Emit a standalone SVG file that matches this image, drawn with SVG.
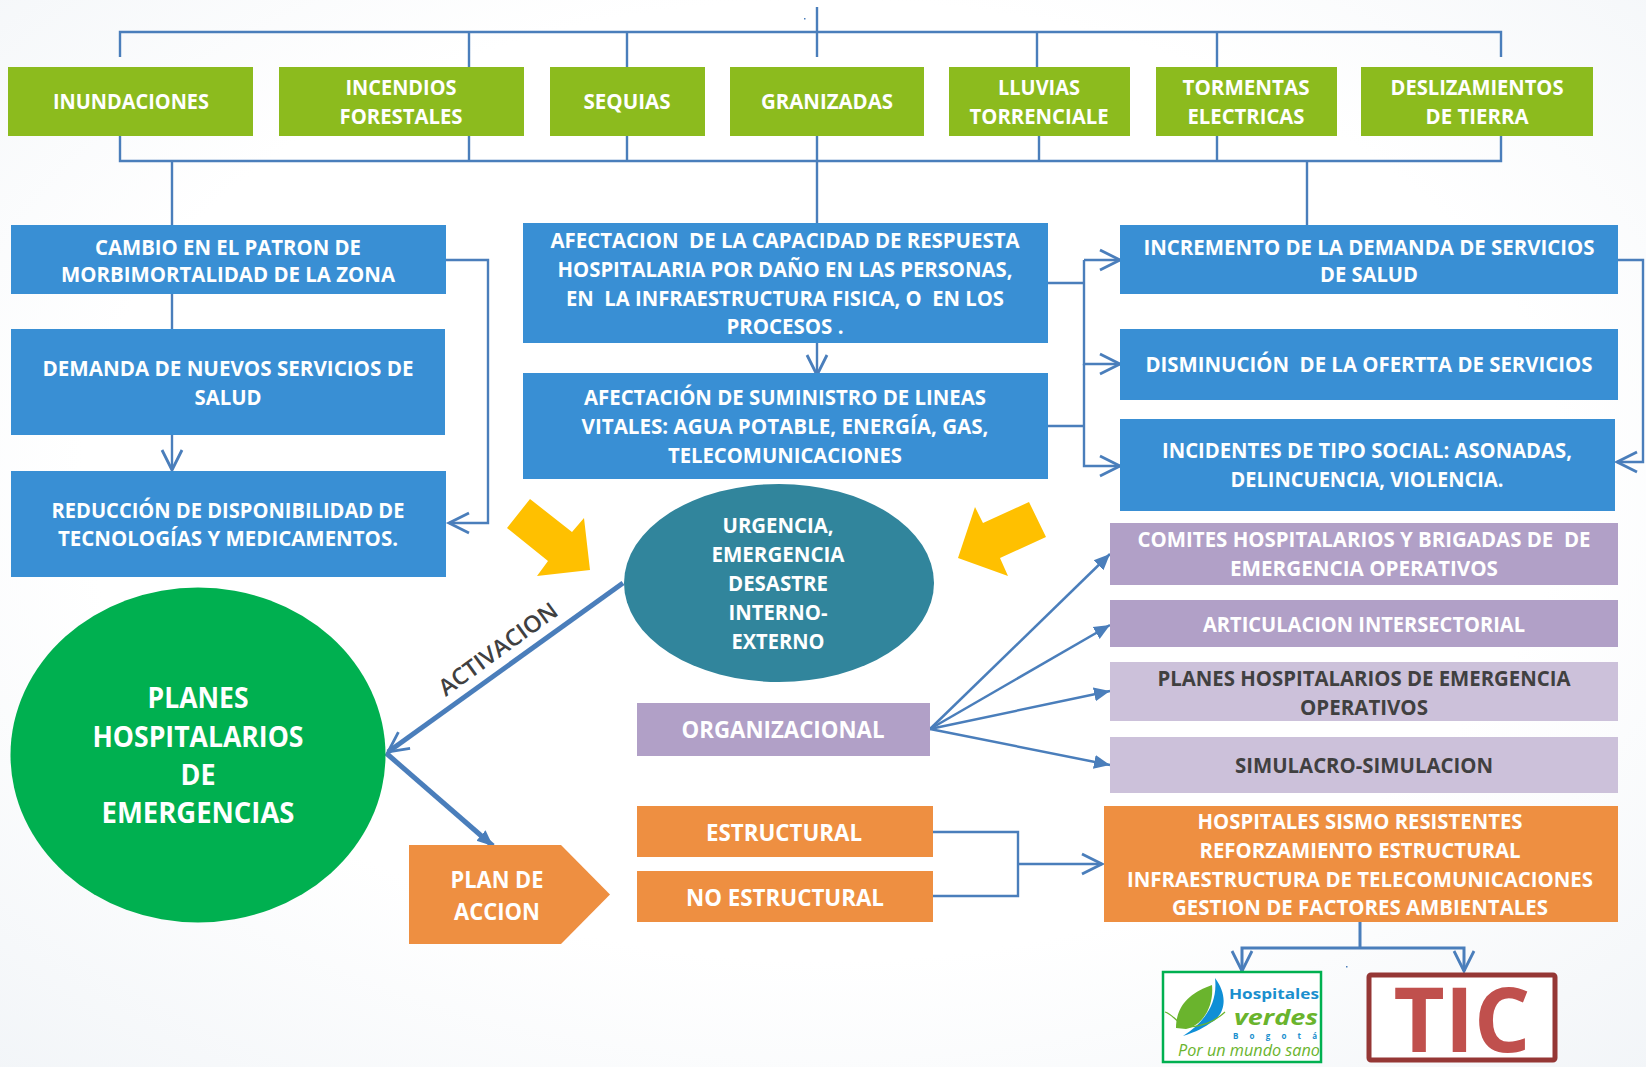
<svg xmlns="http://www.w3.org/2000/svg" width="1646" height="1067" viewBox="0 0 1646 1067">
<style>
text{font-family:"Open Sans","Liberation Sans",sans-serif;font-weight:700;font-size:21px;text-anchor:middle;fill:#fff;white-space:pre}
.big{font-size:23px}.huge{font-size:28px}
.dk{fill:#404040}
.line{fill:none;stroke:#4a7ebb;stroke-width:2.4}
.blue{fill:#398fd4}.grn{fill:#8cbb1e}.pur{fill:#b1a0c7}.lil{fill:#ccc1da}.org{fill:#ee8f41}
.yel{fill:#ffc000}
</style>
<defs>
<radialGradient id="bg" cx="50%" cy="45%" r="75%"><stop offset="0.6" stop-color="#ffffff"/><stop offset="1" stop-color="#f2f5f8"/></radialGradient>
<marker id="open" markerUnits="userSpaceOnUse" markerWidth="26" markerHeight="26" refX="21" refY="11" orient="auto" overflow="visible"><path d="M1 1L21 11L1 21" fill="none" stroke="#4a7ebb" stroke-width="2.8"/></marker>
<marker id="tri" markerUnits="userSpaceOnUse" markerWidth="20" markerHeight="20" refX="16" refY="8" orient="auto"><path d="M0 1L16 8L0 15Z" fill="#4a7ebb"/></marker>
</defs>
<rect width="1646" height="1067" fill="url(#bg)"/>
<g id="connectors">
<path class="line" d="M120 57V32H1501V57M469 32V67M627 32V67M817 7V57M1037 32V67M1217 32V67"/>
<path class="line" d="M120 136V161H1501V136M469 136V161M627 136V161M817 136V223M1039 136V161M1217 136V161M172 161V225M1307 161V225"/>
<path class="line" d="M172 294V329"/>
<path class="line" marker-end="url(#open)" d="M172 435V470"/>
<path class="line" marker-end="url(#open)" d="M446 260H488V523H449"/>
<path class="line" marker-end="url(#open)" d="M817 342V375"/>
<path class="line" d="M1048 283H1084M1048 426H1084"/>
<path class="line" marker-end="url(#open)" d="M1084 260H1120"/>
<path class="line" marker-end="url(#open)" d="M1084 260V364H1120"/>
<path class="line" marker-end="url(#open)" d="M1084 364V466H1120"/>
<path class="line" marker-end="url(#open)" d="M1618 260H1643V462H1617"/>
<path class="line" d="M933 832H1018V896H933"/>
<path class="line" marker-end="url(#open)" d="M1018 864H1102"/>
<path class="line" style="stroke-width:3" d="M1360 922V948"/>
<path class="line" style="stroke-width:3" marker-end="url(#open)" d="M1360 948H1242V971"/>
<path class="line" style="stroke-width:3" marker-end="url(#open)" d="M1360 948H1464V971"/>
<path class="line" style="stroke-width:2.5" marker-end="url(#tri)" d="M930 729L1110 554"/>
<path class="line" style="stroke-width:2.5" marker-end="url(#tri)" d="M930 729L1110 625"/>
<path class="line" style="stroke-width:2.5" marker-end="url(#tri)" d="M930 729L1110 691"/>
<path class="line" style="stroke-width:2.5" marker-end="url(#tri)" d="M930 729L1110 765"/>
<path class="line" style="stroke-width:5" marker-end="url(#open)" d="M623 583L388 752"/>
<path class="line" style="stroke-width:5" marker-end="url(#tri)" d="M386 753L493 846"/>
</g>
<g id="n-yellow-left"><path class="yel" d="M530 499L572 532L584 518L590 570L537 576L548 561L507 528Z"/></g>
<g id="n-yellow-right"><path class="yel" d="M1029 502L1046 537L1000 558L1008 576L958 558L975 507L983 523Z"/></g>
<g id="n-inundaciones"><rect class="grn" x="8" y="67" width="245" height="69"/><text x="131" y="109" textLength="156" lengthAdjust="spacingAndGlyphs">INUNDACIONES</text></g>
<g id="n-incendios"><rect class="grn" x="279" y="67" width="245" height="69"/><text x="401" y="95" textLength="111" lengthAdjust="spacingAndGlyphs">INCENDIOS</text><text x="401" y="124" textLength="123" lengthAdjust="spacingAndGlyphs">FORESTALES</text></g>
<g id="n-sequias"><rect class="grn" x="550" y="67" width="155" height="69"/><text x="627" y="109" textLength="87" lengthAdjust="spacingAndGlyphs">SEQUIAS</text></g>
<g id="n-granizadas"><rect class="grn" x="730" y="67" width="194" height="69"/><text x="827" y="109" textLength="132" lengthAdjust="spacingAndGlyphs">GRANIZADAS</text></g>
<g id="n-lluvias"><rect class="grn" x="949" y="67" width="181" height="69"/><text x="1039" y="95" textLength="82" lengthAdjust="spacingAndGlyphs">LLUVIAS</text><text x="1039" y="124" textLength="139" lengthAdjust="spacingAndGlyphs">TORRENCIALE</text></g>
<g id="n-tormentas"><rect class="grn" x="1156" y="67" width="181" height="69"/><text x="1246" y="95" textLength="127" lengthAdjust="spacingAndGlyphs">TORMENTAS</text><text x="1246" y="124" textLength="117" lengthAdjust="spacingAndGlyphs">ELECTRICAS</text></g>
<g id="n-deslizamientos"><rect class="grn" x="1361" y="67" width="232" height="69"/><text x="1477" y="95" textLength="173" lengthAdjust="spacingAndGlyphs">DESLIZAMIENTOS</text><text x="1477" y="124" textLength="103" lengthAdjust="spacingAndGlyphs">DE TIERRA</text></g>
<g id="n-cambio"><rect class="blue" x="11" y="225" width="435" height="69"/><text x="228" y="255" textLength="266" lengthAdjust="spacingAndGlyphs">CAMBIO EN EL PATRON DE</text><text x="228" y="282" textLength="334" lengthAdjust="spacingAndGlyphs">MORBIMORTALIDAD DE LA ZONA</text></g>
<g id="n-demanda"><rect class="blue" x="11" y="329" width="434" height="106"/><text x="228" y="376" textLength="371" lengthAdjust="spacingAndGlyphs">DEMANDA DE NUEVOS SERVICIOS DE</text><text x="228" y="405" textLength="67" lengthAdjust="spacingAndGlyphs">SALUD</text></g>
<g id="n-reduccion"><rect class="blue" x="11" y="471" width="435" height="106"/><text x="228" y="518" textLength="353" lengthAdjust="spacingAndGlyphs">REDUCCIÓN DE DISPONIBILIDAD DE</text><text x="228" y="546" textLength="340" lengthAdjust="spacingAndGlyphs">TECNOLOGÍAS Y MEDICAMENTOS.</text></g>
<g id="n-afectacion"><rect class="blue" x="523" y="223" width="525" height="120"/><text x="785" y="248" textLength="469" lengthAdjust="spacingAndGlyphs">AFECTACION  DE LA CAPACIDAD DE RESPUESTA</text><text x="785" y="277" textLength="455" lengthAdjust="spacingAndGlyphs">HOSPITALARIA POR DAÑO EN LAS PERSONAS,</text><text x="785" y="306" textLength="438" lengthAdjust="spacingAndGlyphs">EN  LA INFRAESTRUCTURA FISICA, O  EN LOS</text><text x="785" y="334" textLength="117" lengthAdjust="spacingAndGlyphs">PROCESOS .</text></g>
<g id="n-suministro"><rect class="blue" x="523" y="373" width="525" height="106"/><text x="785" y="405" textLength="402" lengthAdjust="spacingAndGlyphs">AFECTACIÓN DE SUMINISTRO DE LINEAS</text><text x="785" y="434" textLength="407" lengthAdjust="spacingAndGlyphs">VITALES: AGUA POTABLE, ENERGÍA, GAS,</text><text x="785" y="463" textLength="234" lengthAdjust="spacingAndGlyphs">TELECOMUNICACIONES</text></g>
<g id="n-incremento"><rect class="blue" x="1120" y="225" width="498" height="69"/><text x="1369" y="255" textLength="451" lengthAdjust="spacingAndGlyphs">INCREMENTO DE LA DEMANDA DE SERVICIOS</text><text x="1369" y="282" textLength="98" lengthAdjust="spacingAndGlyphs">DE SALUD</text></g>
<g id="n-disminucion"><rect class="blue" x="1120" y="329" width="498" height="71"/><text x="1369" y="372" textLength="447" lengthAdjust="spacingAndGlyphs">DISMINUCIÓN  DE LA OFERTTA DE SERVICIOS</text></g>
<g id="n-incidentes"><rect class="blue" x="1120" y="419" width="495" height="92"/><text x="1367" y="458" textLength="410" lengthAdjust="spacingAndGlyphs">INCIDENTES DE TIPO SOCIAL: ASONADAS,</text><text x="1367" y="487" textLength="273" lengthAdjust="spacingAndGlyphs">DELINCUENCIA, VIOLENCIA.</text></g>
<g id="n-urgencia"><ellipse cx="779" cy="583" rx="155" ry="99" fill="#31859c"/><text x="778" y="533" textLength="111" lengthAdjust="spacingAndGlyphs">URGENCIA,</text><text x="778" y="562" textLength="133" lengthAdjust="spacingAndGlyphs">EMERGENCIA</text><text x="778" y="591" textLength="100" lengthAdjust="spacingAndGlyphs">DESASTRE</text><text x="778" y="620" textLength="99" lengthAdjust="spacingAndGlyphs">INTERNO-</text><text x="778" y="649" textLength="93" lengthAdjust="spacingAndGlyphs">EXTERNO</text></g>
<g id="n-comites"><rect class="pur" x="1110" y="523" width="508" height="62"/><text x="1364" y="547" textLength="453" lengthAdjust="spacingAndGlyphs">COMITES HOSPITALARIOS Y BRIGADAS DE  DE</text><text x="1364" y="576" textLength="268" lengthAdjust="spacingAndGlyphs">EMERGENCIA OPERATIVOS</text></g>
<g id="n-articulacion"><rect class="pur" x="1110" y="600" width="508" height="47"/><text x="1364" y="632" textLength="322" lengthAdjust="spacingAndGlyphs">ARTICULACION INTERSECTORIAL</text></g>
<g id="n-planes-op"><rect class="lil" x="1110" y="662" width="508" height="59"/><text class="dk" x="1364" y="686" textLength="413" lengthAdjust="spacingAndGlyphs">PLANES HOSPITALARIOS DE EMERGENCIA</text><text class="dk" x="1364" y="715" textLength="128" lengthAdjust="spacingAndGlyphs">OPERATIVOS</text></g>
<g id="n-simulacro"><rect class="lil" x="1110" y="737" width="508" height="56"/><text class="dk" x="1364" y="773" textLength="258" lengthAdjust="spacingAndGlyphs">SIMULACRO-SIMULACION</text></g>
<g id="n-organizacional"><rect class="pur" x="637" y="703" width="293" height="53"/><text class="big" x="783" y="738" textLength="203" lengthAdjust="spacingAndGlyphs">ORGANIZACIONAL</text></g>
<g id="n-estructural"><rect class="org" x="637" y="806" width="296" height="51"/><text class="big" x="784" y="841" textLength="156" lengthAdjust="spacingAndGlyphs">ESTRUCTURAL</text></g>
<g id="n-no-estructural"><rect class="org" x="637" y="871" width="296" height="51"/><text class="big" x="785" y="906" textLength="198" lengthAdjust="spacingAndGlyphs">NO ESTRUCTURAL</text></g>
<g id="n-hospitales"><rect class="org" x="1104" y="806" width="514" height="116"/><text x="1360" y="829" textLength="325" lengthAdjust="spacingAndGlyphs">HOSPITALES SISMO RESISTENTES</text><text x="1360" y="858" textLength="321" lengthAdjust="spacingAndGlyphs">REFORZAMIENTO ESTRUCTURAL</text><text x="1360" y="887" textLength="466" lengthAdjust="spacingAndGlyphs">INFRAESTRUCTURA DE TELECOMUNICACIONES</text><text x="1360" y="915" textLength="376" lengthAdjust="spacingAndGlyphs">GESTION DE FACTORES AMBIENTALES</text></g>
<g id="n-plan-accion"><path class="org" d="M409 845H561L610 894.500L561 944H409Z"/><text class="big" x="497" y="888" textLength="93" lengthAdjust="spacingAndGlyphs">PLAN DE</text><text class="big" x="497" y="920" textLength="86" lengthAdjust="spacingAndGlyphs">ACCION</text></g>
<g id="n-planes"><ellipse cx="198" cy="755" rx="187.5" ry="167.5" fill="#00b050"/><text class="huge" x="198" y="708" textLength="101" lengthAdjust="spacingAndGlyphs">PLANES</text><text class="huge" x="198" y="747" textLength="211" lengthAdjust="spacingAndGlyphs">HOSPITALARIOS</text><text class="huge" x="198" y="785" textLength="35" lengthAdjust="spacingAndGlyphs">DE</text><text class="huge" x="198" y="823" textLength="193" lengthAdjust="spacingAndGlyphs">EMERGENCIAS</text></g>
<text class="dk big" style="font-weight:600" transform="translate(498 649) rotate(-36)" x="0" y="8" textLength="141" lengthAdjust="spacingAndGlyphs">ACTIVACION</text>
<g id="n-hospitales-verdes"><rect x="1163" y="972" width="158" height="90" fill="#fff" stroke="#00b050" stroke-width="2.5"/>
<path d="M1176 1028C1176 1004 1192 992 1212 985C1214 1005 1204 1025 1186 1029Z" fill="#6ab42d"/>
<path d="M1215 978C1226 992 1228 1012 1212 1022C1205 1027 1196 1032 1183 1036C1205 1022 1218 1003 1215 978Z" fill="#0f8fd6"/>
<path d="M1165 1012C1175 1015 1180 1028 1190 1027C1200 1026 1212 1024 1225 1012" fill="none" stroke="#6ab42d" stroke-width="1.2"/>
<text x="1274" y="999" style="font-size:14px;fill:#1a8fce;font-weight:700" textLength="90" lengthAdjust="spacingAndGlyphs">Hospitales</text>
<text x="1276" y="1025" style="font-size:21px;fill:#6ab42d;font-style:italic;font-weight:700" textLength="84" lengthAdjust="spacingAndGlyphs">verdes</text>
<text x="1275" y="1039" style="font-size:8px;fill:#1a8fce;font-weight:700" textLength="84" lengthAdjust="spacing">Bogotá</text>
<text x="1249" y="1056" style="font-size:16px;fill:#6ab42d;font-style:italic;font-weight:500" textLength="142" lengthAdjust="spacingAndGlyphs">Por un mundo sano</text></g>
<g id="n-tic"><rect x="1369" y="975" width="186" height="85" rx="2" fill="#fff" stroke="#953735" stroke-width="5"/><text x="1462" y="1052" style="font-size:90px;font-weight:700;fill:#c0504d" textLength="137" lengthAdjust="spacingAndGlyphs">TIC</text></g>
<rect x="804" y="18" width="1.500" height="1.500" fill="#4a7ebb"/><rect x="1346" y="966" width="1.500" height="1.500" fill="#4a7ebb"/>
</svg>
